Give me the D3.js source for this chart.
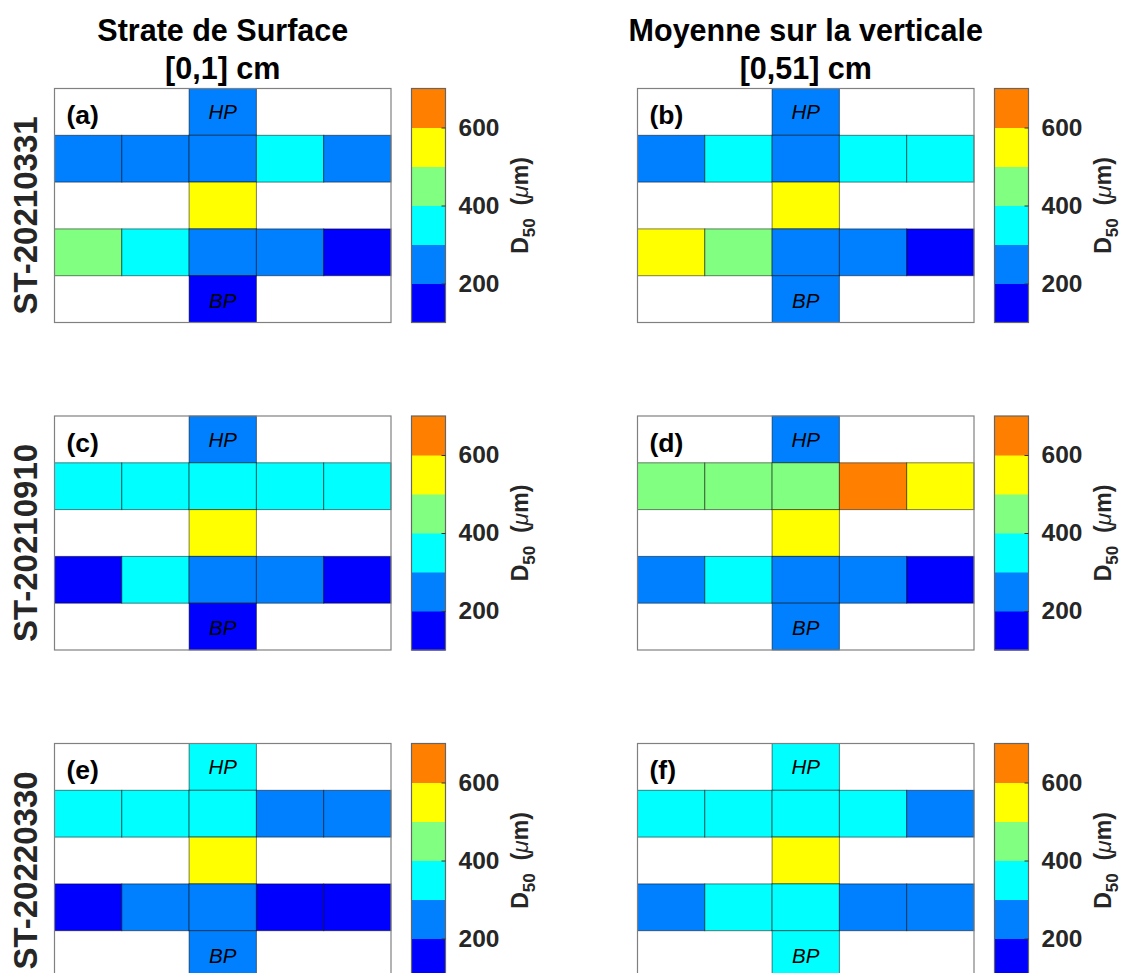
<!DOCTYPE html>
<html>
<head>
<meta charset="utf-8">
<script src="https://cdn.jsdelivr.net/npm/d3@7/dist/d3.min.js"></script>
<style>
  html, body { margin: 0; padding: 0; background: #fff; }
  svg text { font-family: "Liberation Sans", Arial, Helvetica, sans-serif; }
</style>
</head>
<body>
<svg id="chart" width="1129" height="973"></svg>
<script>
// ---------- data ----------
const stations = ["ST-20210331", "ST-20210910", "ST-20220330"];
const layerTitles = ["Strate de Surface", "Moyenne sur la verticale"];
const layerDepths = ["[0,1] cm", "[0,51] cm"];
const panelLetters = ["(a)", "(b)", "(c)", "(d)", "(e)", "(f)"];
const colorTicks = [200, 400, 600];
const colorDomain = [100, 700];
const jetColors = ["#0000ff", "#0080ff", "#00ffff", "#80ff80", "#ffff00", "#ff8000"];

// D50 (µm) per 5x5 station grid (null = no sample); rows top (HP) to bottom (BP)
const panelA = [
  [null, null, 250, null, null],
  [250, 250, 250, 350, 250],
  [null, null, 550, null, null],
  [450, 350, 250, 250, 150],
  [null, null, 150, null, null]
];
const panelB = [
  [null, null, 250, null, null],
  [250, 350, 250, 350, 350],
  [null, null, 550, null, null],
  [550, 450, 250, 250, 150],
  [null, null, 250, null, null]
];
const panelC = [
  [null, null, 250, null, null],
  [350, 350, 350, 350, 350],
  [null, null, 550, null, null],
  [150, 350, 250, 250, 150],
  [null, null, 150, null, null]
];
const panelD = [
  [null, null, 250, null, null],
  [450, 450, 450, 650, 550],
  [null, null, 550, null, null],
  [250, 350, 250, 250, 150],
  [null, null, 250, null, null]
];
const panelE = [
  [null, null, 350, null, null],
  [350, 350, 350, 250, 250],
  [null, null, 550, null, null],
  [150, 250, 250, 150, 150],
  [null, null, 250, null, null]
];
const panelF = [
  [null, null, 350, null, null],
  [350, 350, 350, 350, 250],
  [null, null, 550, null, null],
  [250, 350, 350, 250, 250],
  [null, null, 350, null, null]
];
const panels = [panelA, panelB, panelC, panelD, panelE, panelF];

// ---------- layout ----------
const svg = d3.select("#chart");
const axLeft = [54.5, 637.5];
const axTop = [88.5, 416, 743.5];
const axW = 336.5, axH = 234;
const cbGap = 20.5, cbW = 34;
const tickColor = "#262626";

const color = d3.scaleQuantize().domain(colorDomain).range(jetColors);

// Column titles
layerTitles.forEach((t, c) => {
  const cx = axLeft[c] + axW / 2;
  const g = svg.append("g");
  g.append("text").attr("x", cx).attr("y", 41).attr("text-anchor", "middle")
    .attr("font-size", 30.5).attr("font-weight", "bold").attr("fill", "#000").text(t);
  g.append("text").attr("x", cx).attr("y", 78.5).attr("text-anchor", "middle")
    .attr("font-size", 30.5).attr("font-weight", "bold").attr("fill", "#000").text(layerDepths[c]);
});

// Row labels
stations.forEach((s, r) => {
  const cy = axTop[r] + axH / 2 + 10;
  svg.append("text")
    .attr("transform", `translate(37,${cy}) rotate(-90)`)
    .attr("text-anchor", "middle")
    .attr("font-size", 33).attr("font-weight", "bold").attr("fill", tickColor)
    .text(s);
});

panels.forEach((grid, i) => {
  const r = Math.floor(i / 2), c = i % 2;
  const x0 = axLeft[c], y0 = axTop[r];
  const g = svg.append("g").attr("transform", `translate(${x0},${y0})`);

  const x = d3.scaleBand().domain(d3.range(5)).range([0, axW]).padding(0);
  const y = d3.scaleBand().domain(d3.range(5)).range([0, axH]).padding(0);

  const cells = [];
  grid.forEach((row, ri) => row.forEach((v, ci) => { if (v !== null) cells.push({ ri, ci, v }); }));

  g.append("rect").attr("x", 0).attr("y", 0).attr("width", axW).attr("height", axH).attr("fill", "#fff");

  g.selectAll("rect.cell").data(cells).join("rect")
    .attr("class", "cell")
    .attr("x", d => x(d.ci)).attr("y", d => y(d.ri))
    .attr("width", x.bandwidth()).attr("height", y.bandwidth())
    .attr("fill", d => color(d.v))
    .attr("stroke", "rgba(0,0,0,0.5)").attr("stroke-width", 1);

  g.append("rect").attr("x", 0).attr("y", 0).attr("width", axW).attr("height", axH)
    .attr("fill", "none").attr("stroke", "#808080").attr("stroke-width", 1.2);

  g.append("text").attr("x", x(2) + x.bandwidth() / 2).attr("y", y(0) + y.bandwidth() / 2 + 7.5)
    .attr("text-anchor", "middle").attr("font-size", 20.5).attr("font-style", "italic")
    .attr("fill", "#000").text("HP");
  g.append("text").attr("x", x(2) + x.bandwidth() / 2).attr("y", y(4) + y.bandwidth() / 2 + 8.5)
    .attr("text-anchor", "middle").attr("font-size", 20.5).attr("font-style", "italic")
    .attr("fill", "#000").text("BP");

  g.append("text").attr("x", 12).attr("y", 35.5)
    .attr("font-size", 26.5).attr("font-weight", "bold").attr("fill", "#000")
    .text(panelLetters[i]);

  // colorbar
  const cbx = axW + cbGap;
  const cb = g.append("g").attr("transform", `translate(${cbx},0)`);
  const cy = d3.scaleLinear().domain(colorDomain).range([axH, 0]);
  const step = (colorDomain[1] - colorDomain[0]) / jetColors.length;
  const bins = jetColors.map((col, k) => ({ lo: colorDomain[0] + k * step, hi: colorDomain[0] + (k + 1) * step, col }));
  cb.selectAll("rect.bin").data(bins).join("rect")
    .attr("class", "bin")
    .attr("x", 0).attr("y", d => cy(d.hi)).attr("width", cbW).attr("height", d => cy(d.lo) - cy(d.hi) + 0.5)
    .attr("fill", d => d.col);
  cb.append("rect").attr("x", 0).attr("y", 0).attr("width", cbW).attr("height", axH)
    .attr("fill", "none").attr("stroke", "#666").attr("stroke-width", 1.2);

  const axis = d3.axisRight(cy).tickValues(colorTicks).tickSizeInner(-4).tickSizeOuter(0).tickPadding(13);
  const ag = cb.append("g").attr("transform", `translate(${cbW},0)`).call(axis);
  ag.select(".domain").remove();
  ag.selectAll(".tick line").attr("stroke", "#333").attr("stroke-width", 1);
  ag.selectAll(".tick text").attr("font-size", 24.5).attr("font-weight", "bold")
    .attr("fill", tickColor).attr("font-family", '"Liberation Sans", Arial, sans-serif');

  // colorbar label D50 (µm)
  const lbl = cb.append("text")
    .attr("transform", `translate(${cbW + 82},${axH / 2}) rotate(-90)`)
    .attr("text-anchor", "middle")
    .attr("font-size", 23).attr("font-weight", "bold").attr("fill", tickColor);
  lbl.append("tspan").text("D");
  lbl.append("tspan").attr("font-size", 17).attr("dy", 7).text("50");
  lbl.append("tspan").attr("dy", -7).text("\u00a0\u00a0(");
  lbl.append("tspan").attr("font-style", "italic").attr("font-weight", "normal").text("\u03bc");
  lbl.append("tspan").text("m)");
});
</script>
</body>
</html>
